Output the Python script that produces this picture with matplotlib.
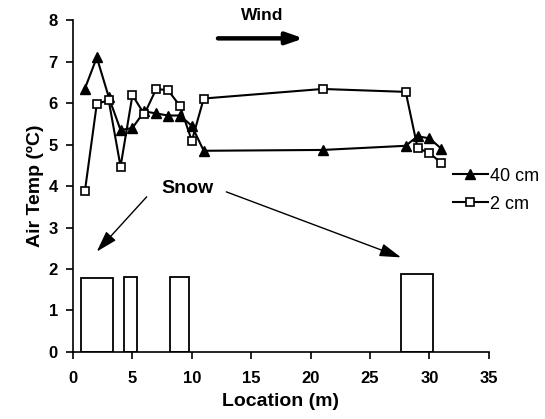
import matplotlib
matplotlib.use("Agg")
import matplotlib.pyplot as plt

plt.rcParams['font.family'] = ['Liberation Sans', 'DejaVu Sans']

# air temperature by location
loc = [1, 2, 3, 4, 5, 6, 7, 8, 9, 10, 11, 21, 28, 29, 30, 31]
temp_40cm = [6.35, 7.1, 6.15, 5.35, 5.4, 5.8, 5.75, 5.7, 5.7, 5.45, 4.85, 4.87, 4.97, 5.2, 5.15, 4.9]
temp_2cm = [3.88, 5.98, 6.07, 4.47, 6.19, 5.73, 6.34, 6.31, 5.93, 5.09, 6.11, 6.34, 6.27, 4.92, 4.79, 4.56]

# snow patches (left edge, width, height)
snow_left = [0.65, 4.3, 8.2, 27.6]
snow_width = [2.75, 1.05, 1.55, 2.7]
snow_height = [1.78, 1.81, 1.81, 1.87]

fig = plt.figure(figsize=(5.45, 4.19), dpi=100)
ax = fig.add_axes([0.134, 0.16, 0.763, 0.792])

ax.bar(snow_left, snow_height, width=snow_width, align='edge',
       color='white', edgecolor='black', linewidth=1.3, zorder=1)

ax.plot(loc, temp_40cm, color='black', marker='^', markersize=7,
        markerfacecolor='black', linewidth=1.5, label='40 cm', zorder=3)
ax.plot(loc, temp_2cm, color='black', marker='s', markersize=6,
        markerfacecolor='white', markeredgewidth=1.2, linewidth=1.5,
        label='2 cm', zorder=3)

ax.set_xlim(0, 35)
ax.set_ylim(0, 8)
ax.set_xticks(range(0, 36, 5))
ax.set_yticks(range(0, 9))

for s in ['top', 'right']:
    ax.spines[s].set_visible(False)
for s in ['left', 'bottom']:
    ax.spines[s].set_linewidth(1.2)
ax.tick_params(direction='out', length=5, width=1.2, labelsize=12)
ax.tick_params(axis='x', pad=9)
ax.tick_params(axis='y', pad=6)
for lab in ax.get_xticklabels() + ax.get_yticklabels():
    lab.set_fontweight('bold')

ax.set_xlabel('Location (m)', fontsize=14, fontweight='bold', labelpad=5)
ax.set_ylabel('Air Temp (ºC)', fontsize=14, fontweight='bold', labelpad=3)

# annotations
ax.text(15.9, 8.12, 'Wind', ha='center', va='center', fontsize=12.5, fontweight='bold')
ax.annotate('', xy=(19.4, 7.56), xytext=(12.2, 7.56),
            arrowprops=dict(arrowstyle='-|>,head_length=1.0,head_width=0.35',
                            color='black', lw=3.2, shrinkA=0, shrinkB=0))
ax.text(9.6, 3.95, 'Snow', ha='center', va='center', fontsize=14, fontweight='bold')
ax.annotate('', xy=(2.0, 2.42), xytext=(6.2, 3.74),
            arrowprops=dict(arrowstyle='-|>,head_length=1.3,head_width=0.4',
                            color='black', lw=1, shrinkA=0, shrinkB=0))
ax.annotate('', xy=(27.6, 2.28), xytext=(12.9, 3.86),
            arrowprops=dict(arrowstyle='-|>,head_length=1.3,head_width=0.4',
                            color='black', lw=1, shrinkA=0, shrinkB=0))

leg = ax.legend(loc='upper left', bbox_to_anchor=(0.913, 0.555), frameon=False,
                fontsize=13, handlelength=1.95, handletextpad=0.1,
                labelspacing=0.6, borderaxespad=0, borderpad=0)

fig.savefig('out.png', dpi=100)
